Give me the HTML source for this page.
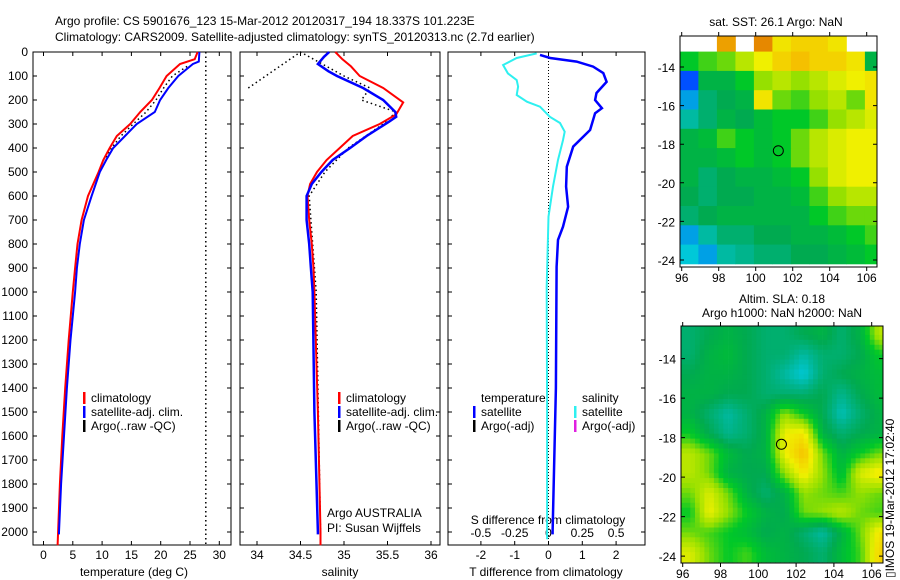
<!DOCTYPE html>
<html><head><meta charset="utf-8"><style>
html,body{margin:0;padding:0;background:#fff}
svg{display:block;font-family:"Liberation Sans",sans-serif;font-size:12px}
</style></head><body>
<svg id="fig" width="900" height="580" viewBox="0 0 900 580">
<text x="55" y="25">Argo profile: CS 5901676_123 15-Mar-2012 20120317_194 18.337S 101.223E</text>
<text x="55" y="41">Climatology: CARS2009. Satellite-adjusted climatology: synTS_20120313.nc (2.7d earlier)</text>
<text x="776" y="26" text-anchor="middle">sat. SST: 26.1 Argo: NaN</text>
<text x="782" y="303" text-anchor="middle">Altim. SLA: 0.18</text>
<text x="782" y="317" text-anchor="middle">Argo h1000: NaN h2000: NaN</text>
<text transform="translate(894,578) rotate(-90)" font-size="12">▯IMOS 19-Mar-2012 17:02:40</text>
<g id="g"></g>
</svg>
<script>
// ---- data ----
const depthTicks=[0,100,200,300,400,500,600,700,800,900,1000,1100,1200,1300,1400,1500,1600,1700,1800,1900,2000];
const tempTicks=[0,5,10,15,20,25,30];
const salTicks=[34,34.5,35,35.5,36];
const tdiffTicks=[-2,-1,0,1,2];
const sdiffTicks=[-0.5,-0.25,0,0.25,0.5];
const tClimDepth=[0,30,50,100,150,200,250,300,350,400,450,500,600,700,800,900,1000,1200,1400,1600,1800,2000,2055];
const tClim=[26.3,25.8,23.3,21,19.8,18.5,16.5,14.8,12.5,11.3,10.2,9.4,7.6,6.5,5.8,5.4,5.0,4.3,3.7,3.2,2.8,2.5,2.4];
const tSatDepth=[0,40,50,100,150,200,250,300,350,400,450,500,600,700,800,900,1000,1200,1400,1600,1800,2000,2010];
const tSat=[26.6,26.5,25.5,23,21.3,19.9,19,15.9,13.9,11.9,10.7,9.6,8.2,6.9,6.2,5.7,5.4,4.6,4.0,3.5,3.0,2.65,2.65];
const tArgoDepth=[60,100,150,200,250,300,350,400,450];
const tArgo=[24.5,22,20.5,19.2,17.5,15.3,13.2,11.6,10.4];
const tArgoLine=27.7;
const sClimDepth=[0,30,60,100,150,210,260,300,350,400,450,500,550,600,700,800,900,1000,1500,2000,2055];
const sClim=[34.9,34.98,35.08,35.18,35.45,35.68,35.6,35.41,35.1,34.95,34.8,34.69,34.61,34.58,34.6,34.63,34.65,34.66,34.7,34.73,34.73];
const sSatDepth=[0,20,50,80,100,150,200,250,270,290,350,400,450,500,550,600,700,800,900,1000,1500,2000,2010];
const sSat=[34.83,34.77,34.7,34.82,34.92,35.22,35.45,35.59,35.6,35.52,35.26,35.07,34.87,34.74,34.63,34.57,34.57,34.6,34.62,34.64,34.66,34.7,34.7];
const sArgoDepth=[150,0,100,150,200,250,300,400,500,600,700,1000,2000];
const sArgo=[33.9,34.5,35.0,35.3,35.2,35.6,35.45,35.05,34.78,34.6,34.62,34.68,34.73];
const dTDepth=[12,25,40,61,88,124,171,200,234,255,325,394,478,561,645,728,783,895,1400,2000,2010];
const dT=[-0.25,0.05,0.83,1.32,1.62,1.72,1.42,1.38,1.58,1.38,1.23,0.73,0.54,0.52,0.58,0.43,0.28,0.24,0.22,0.12,0.12];
const dSDepth=[6,25,54,89,117,144,179,207,228,270,296,332,367,450,561,686,978,1500,2000,2030];
const dS=[-0.087,-0.235,-0.336,-0.3,-0.235,-0.225,-0.235,-0.16,-0.063,0.01,0.085,0.12,0.107,0.07,0.033,0,-0.013,-0.01,-0.01,-0.01];
const latTicks=[-14,-16,-18,-20,-22,-24];
const lonTicks=[96,98,100,102,104,106];
const argoLon=101.223, argoLat=-18.337;
const sstGrid=[
[null,null,0.82,null,0.85,0.72,0.75,0.75,0.72,null,null],
[0.55,0.58,0.6,0.65,0.7,0.75,0.78,0.75,0.75,0.72,0.5],
[0.2,0.5,0.5,0.55,0.62,0.65,0.62,0.65,0.68,0.7,0.72],
[0.3,0.45,0.48,0.5,0.72,0.6,0.58,0.62,0.65,0.6,0.72],
[0.4,0.45,0.5,0.48,0.52,0.55,0.55,0.58,0.62,0.65,0.68],
[0.5,0.52,0.58,0.55,0.52,0.55,0.6,0.65,0.68,0.7,0.7],
[0.5,0.5,0.52,0.55,0.52,0.55,0.6,0.65,0.68,0.7,0.7],
[0.5,0.45,0.48,0.5,0.5,0.52,0.55,0.62,0.68,0.7,0.7],
[0.48,0.45,0.48,0.48,0.5,0.5,0.52,0.58,0.62,0.65,0.65],
[0.45,0.48,0.5,0.5,0.5,0.5,0.5,0.55,0.58,0.6,0.6],
[0.3,0.4,0.45,0.45,0.48,0.48,0.5,0.5,0.52,0.55,0.58],
[0.35,0.3,0.4,0.42,0.45,0.45,0.48,0.48,0.5,0.52,0.55]];
const slaGrid=[
[0.45,0.48,0.5,0.48,0.45,0.45,0.48,0.5,0.45,0.5,0.65],
[0.45,0.5,0.52,0.48,0.45,0.45,0.4,0.45,0.45,0.48,0.55],
[0.48,0.5,0.5,0.48,0.45,0.4,0.35,0.45,0.48,0.5,0.52],
[0.5,0.5,0.48,0.48,0.45,0.45,0.45,0.48,0.42,0.48,0.52],
[0.5,0.45,0.4,0.45,0.5,0.62,0.55,0.48,0.38,0.45,0.5],
[0.55,0.48,0.42,0.45,0.5,0.7,0.72,0.5,0.45,0.48,0.5],
[0.65,0.6,0.52,0.48,0.5,0.7,0.78,0.6,0.5,0.55,0.6],
[0.65,0.6,0.5,0.48,0.48,0.62,0.72,0.62,0.52,0.68,0.72],
[0.6,0.68,0.6,0.5,0.45,0.5,0.62,0.6,0.58,0.62,0.6],
[0.55,0.7,0.62,0.55,0.5,0.48,0.6,0.62,0.65,0.6,0.58],
[0.6,0.58,0.55,0.52,0.48,0.5,0.45,0.4,0.5,0.6,0.72],
[0.68,0.6,0.55,0.58,0.52,0.5,0.48,0.45,0.52,0.58,0.75]];

// ---- drawing ----
const NS="http://www.w3.org/2000/svg";
const G=document.getElementById('g');
function el(tag,attrs,parent){const e=document.createElementNS(NS,tag);for(const k in attrs)e.setAttribute(k,attrs[k]);(parent||G).appendChild(e);return e;}
const yD=d=>52+d*0.24;
const PB=545;
const xT=t=>43.5+t*5.86;
const xS=s=>257+(s-34)*87;
const xdT=t=>548.5+t*33.8;
const xdS=s=>548.5+s*135.2;

function panel(name,x0,x1){
  const r=el('rect',{x:x0,y:52,width:x1-x0,height:PB-52,fill:'none',stroke:'#000','stroke-width':1});
  
  
  for(const d of depthTicks){
    const t=el('path',{d:`M${x0},${yD(d)}h4M${x1},${yD(d)}h-4`,stroke:'#000'});
    
    
  }
}
function xticks(name,vals,fx,x0,x1,labels,ly){
  vals.forEach((v,i)=>{
    const x=fx(v);
    const t=el('path',{d:`M${x},52v4M${x},${PB}v-4`,stroke:'#000'});
    
    
    if(labels){
      const l=el('text',{x:x,y:ly,'text-anchor':'middle'});l.textContent=labels[i];
      
      
    }
  });
}
function line(name,ds,vs,fx,color,w,dash){
  const pts=ds.map((d,i)=>fx(vs[i]).toFixed(1)+','+yD(d).toFixed(1)).join(' ');
  const a={points:pts,fill:'none',stroke:color,'stroke-width':w};
  if(dash)a['stroke-dasharray']=dash;
  const p=el('polyline',a);
  
  
}
function txt(name,x,y,s,anchor){
  const t=el('text',{x:x,y:y,'text-anchor':anchor||'start'});t.textContent=s;
  
  
}
function legBar(name,x,y,c){
  const r=el('rect',{x:x,y:y-10,width:2.5,height:12,fill:c});
  
  
}

// panel 1
panel('temperature-panel',33,231);
xticks('temperature-x',tempTicks,xT,33,231,tempTicks.map(String),559);
depthTicks.forEach(d=>txt('depth-tick-label',28,yD(d)+4,String(d),'end'));
line('temperature-argo-line',[0,2055],[tArgoLine,tArgoLine],xT,'#000',1.5,'1.5,3');
line('temperature-argo-profile',tArgoDepth,tArgo,xT,'#000',1.5,'1.5,3');
line('temperature-climatology',tClimDepth,tClim,xT,'#f00',2);
line('temperature-satellite-adj',tSatDepth,tSat,xT,'#00f',2);
txt('temperature-axis-title',134,576,'temperature (deg C)','middle');
legBar('legend-temp-clim-swatch',83,402,'#f00');txt('legend-temp-clim',91,402,'climatology');
legBar('legend-temp-sat-swatch',83,416,'#00f');txt('legend-temp-sat',91,416,'satellite-adj. clim.');
legBar('legend-temp-argo-swatch',83,430,'#000');txt('legend-temp-argo',91,430,'Argo(..raw -QC)');

// panel 2
panel('salinity-panel',240,440);
xticks('salinity-x',salTicks,xS,240,440,salTicks.map(String),559);
line('salinity-argo-profile',sArgoDepth,sArgo,xS,'#000',1.5,'1.5,3');
line('salinity-climatology',sClimDepth,sClim,xS,'#f00',2);
line('salinity-satellite-adj',sSatDepth,sSat,xS,'#00f',2.5);
txt('salinity-axis-title',340,576,'salinity','middle');
legBar('legend-sal-clim-swatch',338,402,'#f00');txt('legend-sal-clim',346,402,'climatology');
legBar('legend-sal-sat-swatch',338,416,'#00f');txt('legend-sal-sat',346,416,'satellite-adj. clim.');
legBar('legend-sal-argo-swatch',338,430,'#000');txt('legend-sal-argo',346,430,'Argo(..raw -QC)');
txt('argo-agency',327,517,'Argo AUSTRALIA');
txt('argo-pi',327,532,'PI: Susan Wijffels');

// panel 3
panel('difference-panel',448,645);
xticks('tdiff-x',tdiffTicks,xdT,448,645,tdiffTicks.map(String),559);
sdiffTicks.forEach(s=>txt('sdiff-tick-label',xdS(s),537,String(s),'middle'));
txt('sdiff-axis-title',548,524,'S difference from climatology','middle');
line('zero-line',[0,2055],[0,0],xdT,'#000',1,'1,2');
line('salinity-diff-satellite',dSDepth,dS,xdS,'#2ef0f0',2);
line('temperature-diff-satellite',dTDepth,dT,xdT,'#00f',2.5);
txt('tdiff-axis-title',546,576,'T difference from climatology','middle');
txt('legend-diff-temp-header',481,402,'temperature');
txt('legend-diff-sal-header',582,402,'salinity');
legBar('legend-diff-tsat-swatch',473,416,'#00f');txt('legend-diff-tsat',481,416,'satellite');
legBar('legend-diff-targo-swatch',473,430,'#000');txt('legend-diff-targo',481,430,'Argo(-adj)');
legBar('legend-diff-ssat-swatch',574,416,'#2ef0f0');txt('legend-diff-ssat',582,416,'satellite');
legBar('legend-diff-sargo-swatch',574,430,'#e020e0');txt('legend-diff-sargo',582,430,'Argo(-adj)');

// colour map
const stops=[[0,[0,0,140]],[0.2,[0,80,255]],[0.35,[0,200,216]],[0.42,[0,180,140]],[0.48,[0,170,80]],[0.55,[0,200,40]],[0.62,[150,224,0]],[0.7,[240,240,0]],[0.78,[245,192,0]],[0.88,[224,112,0]]];
function cmap(v){
  if(v<=stops[0][0])return 'rgb('+stops[0][1]+')';
  for(let i=1;i<stops.length;i++){if(v<=stops[i][0]){const [a,ca]=stops[i-1],[b,cb]=stops[i];const f=(v-a)/(b-a);return 'rgb('+ca.map((c,k)=>Math.round(c+(cb[k]-c)*f)).join(',')+')';}}
  return 'rgb('+stops[stops.length-1][1]+')';
}
function map(name,grid,fx,fy,x0,x1,y0,y1,smooth,lat0){
  const nr=grid.length,nc=grid[0].length;
  const sub=smooth?4:1;
  for(let r=0;r<nr*sub;r++)for(let c=0;c<nc*sub;c++){
    let v;
    if(smooth){
      const gr=Math.max(0,Math.min(nr-1,(r+0.5)/sub-0.5)),gc=Math.max(0,Math.min(nc-1,(c+0.5)/sub-0.5));
      const r0=Math.floor(gr),c0=Math.floor(gc),r1=Math.min(nr-1,r0+1),c1=Math.min(nc-1,c0+1),fr=gr-r0,fc=gc-c0;
      v=(grid[r0][c0]*(1-fc)+grid[r0][c1]*fc)*(1-fr)+(grid[r1][c0]*(1-fc)+grid[r1][c1]*fc)*fr;
    } else v=grid[r][c];
    if(v===null)continue;
    const lo=96-0.1+c/sub,la=lat0-r/sub;
    const xa=fx(lo),xb=Math.min(x1,fx(lo+1/sub)),ya=Math.max(y0,fy(la)),yb=Math.min(y1,fy(la-1/sub));
    if(xb<=xa||yb<=ya)continue;
    const q=el('rect',{x:xa.toFixed(1),y:ya.toFixed(1),width:(xb-xa+0.4).toFixed(1),height:(yb-ya+0.4).toFixed(1),fill:cmap(v)});
    
    
  }
  const f=el('rect',{x:x0,y:y0,width:x1-x0,height:y1-y0,fill:'none',stroke:'#000'});
  
  
  latTicks.forEach(l=>{
    const y=fy(l);
    const t=el('path',{d:`M${x0},${y}h4M${x1},${y}h-4`,stroke:'#000'});
    
    
    txt(name+'-lat-label',x0-5,y+5,String(l),'end');
  });
  lonTicks.forEach(l=>{
    const x=fx(l);
    const t=el('path',{d:`M${x},${y0}v-4M${x},${y1}v4`,stroke:'#000'});
    
    
    txt(name+'-lon-label',x,y1+15,String(l),'middle');
  });
  const c=el('circle',{cx:fx(argoLon),cy:fy(argoLat),r:5,fill:'none',stroke:'#000'});
  
  
}
map('sst-map',sstGrid,lo=>681.7+(lo-96)*18.5,la=>67+(-14-la)*19.3,680,877,36,267,false,-12.2);
map('sla-map',slaGrid,lo=>682.7+(lo-96)*18.9,la=>358.6+(-14-la)*19.75,681,883,326,563,true,-12.3);
</script>
</body></html>
